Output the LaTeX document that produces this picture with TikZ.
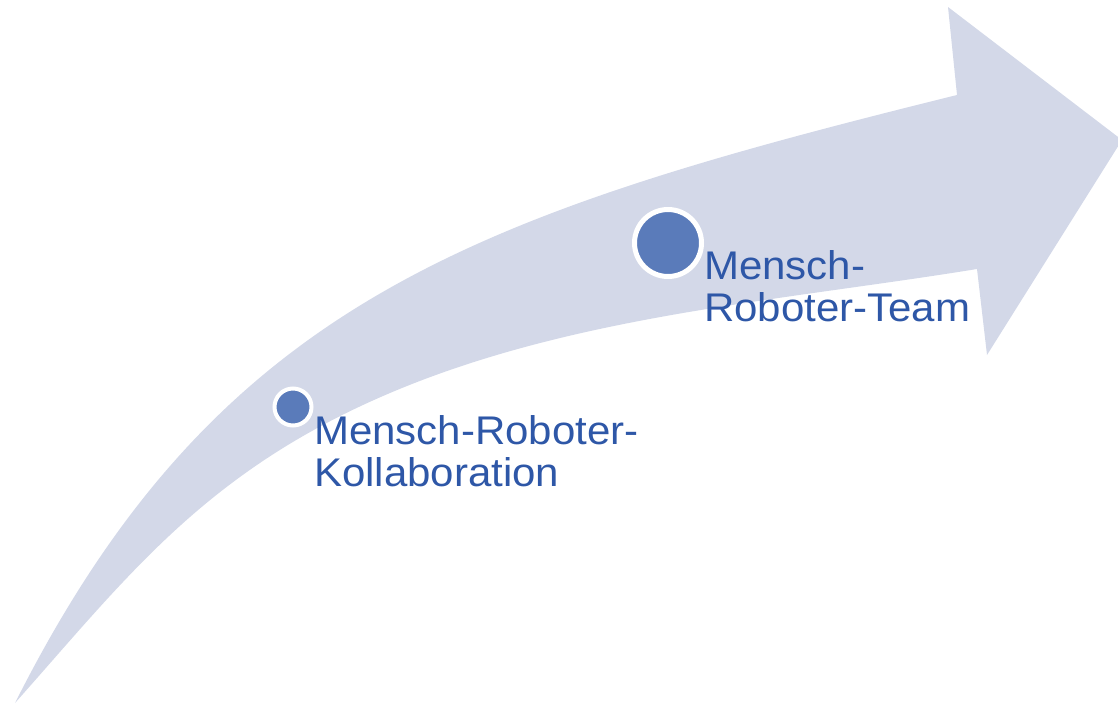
\documentclass[tikz,border=0pt]{standalone}
\usepackage{fontspec}
\setmainfont{Liberation Sans}[FakeStretch=1.05]
\definecolor{arrowfill}{HTML}{D3D8E8}
\definecolor{dotblue}{HTML}{5A7BBA}
\definecolor{textblue}{HTML}{2E57A7}
\begin{document}
\begin{tikzpicture}[x=1pt,y=-1pt,
  dotstyle/.style={circle,fill=dotblue,draw=white,inner sep=0pt},
  labelstyle/.style={text=textblue,anchor=base west,inner sep=0pt,align=left,
    font=\fontsize{40}{42.5}\selectfont}]
\useasboundingbox (0,0) rectangle (1118,704);
\clip (0,0) rectangle (1118,704);
% curved arrow
\coordinate (tail) at (15,703);
\coordinate (topin) at (957,95);
\coordinate (topbarb) at (948,7);
\coordinate (tip) at (1122,140);
\coordinate (botbarb) at (987,355);
\coordinate (botin) at (977,269);
\coordinate (botmid) at (390,393);
\fill[arrowfill] (tail) .. controls (217,302) and (472,215) .. (topin)
  -- (topbarb) -- (tip) -- (botbarb) -- (botin)
  .. controls (780,301) and (574,315) .. (botmid)
  .. controls (206,471) and (128,576) .. (tail) -- cycle;
% dots
\node[dotstyle,line width=4pt,minimum size=37pt] (d1) at (293,407) {};
\node[dotstyle,line width=5pt,minimum size=67pt] (d2) at (668,243) {};
% labels (base anchor = baseline of last line)
\node[labelstyle] (l1) at (314,486.5) {Mensch-Roboter-\\Kollaboration};
\node[labelstyle] (l2) at (704,321.5) {Mensch-\\Roboter-Team};
\end{tikzpicture}
\end{document}
